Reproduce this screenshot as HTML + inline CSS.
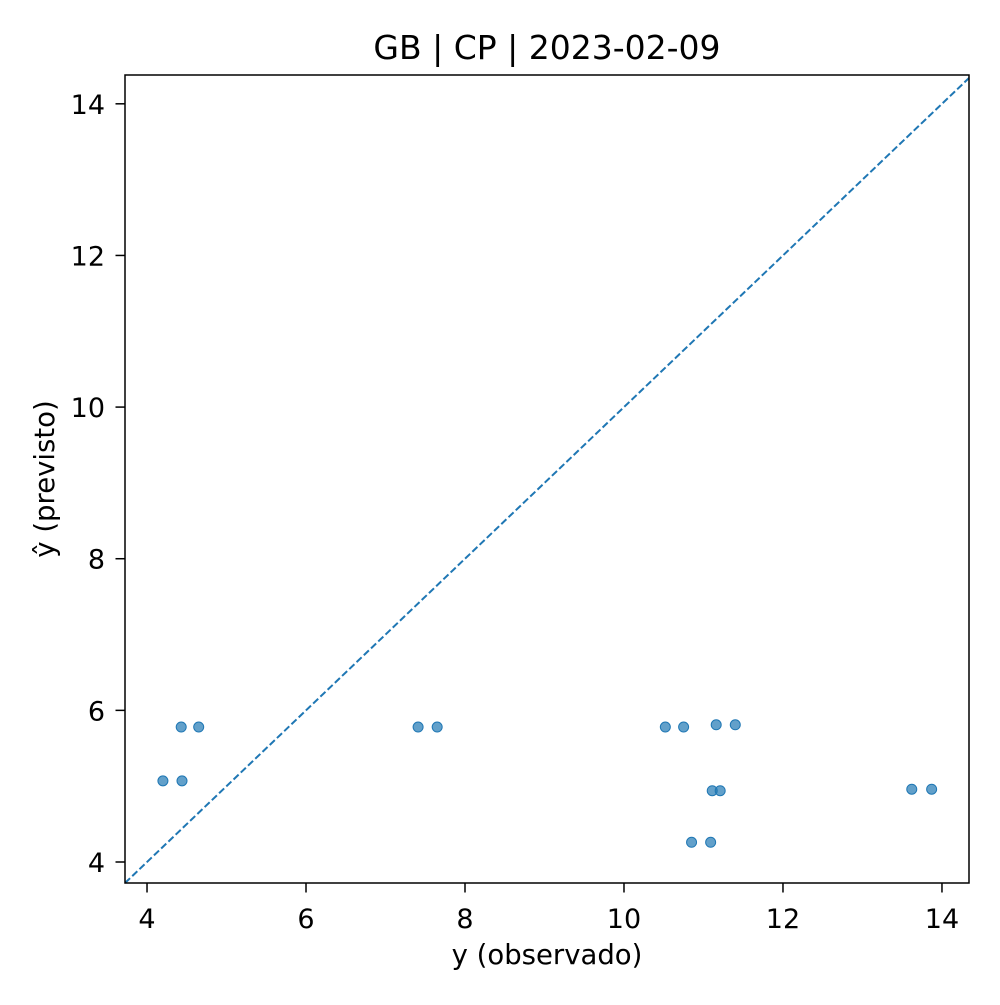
<!DOCTYPE html>
<html><head><meta charset="utf-8"><style>
html,body{margin:0;padding:0;background:#fff;}
svg text{font-family:"DejaVu Sans","Liberation Sans",sans-serif;fill:#000;}
</style></head><body>
<svg id="chart" width="1000" height="1000" xmlns="http://www.w3.org/2000/svg">
<rect width="1000" height="1000" fill="#fff"/>
<text x="547" y="59" font-size="33" text-anchor="middle">GB | CP | 2023-02-09</text>
<g id="marks"></g>
<rect x="125" y="75" width="844" height="808" fill="none" stroke="#000" stroke-width="1.5"/>
<g id="axes"></g>
<text x="547" y="964" font-size="27.5" text-anchor="middle">y (observado)</text>
<text transform="translate(54,479) rotate(-90)" font-size="27.5" text-anchor="middle">ŷ (previsto)</text>
</svg>
<script>
const xObs = [4.20,4.44,4.43,4.65,7.41,7.65,10.52,10.75,11.16,11.40,11.11,11.21,10.85,11.09,13.62,13.87];
const yPred = [5.07,5.07,5.78,5.78,5.78,5.78,5.78,5.78,5.81,5.81,4.94,4.94,4.26,4.26,4.96,4.96];
const xTicks = [4,6,8,10,12,14];
const yTicks = [4,6,8,10,12,14];
const xDomain = [3.723,14.34];
const yDomain = [3.723,14.38];
const L=125,R=969,T=75,B=883;
const sx=v=>L+(v-xDomain[0])/(xDomain[1]-xDomain[0])*(R-L);
const sy=v=>B-(v-yDomain[0])/(yDomain[1]-yDomain[0])*(B-T);
const NS='http://www.w3.org/2000/svg';
const marks=document.getElementById('marks');
const axes=document.getElementById('axes');
const hi=Math.min(xDomain[1],yDomain[1]);
const line=document.createElementNS(NS,'line');


line.setAttribute('x1',sx(xDomain[0]));line.setAttribute('y1',sy(xDomain[0]));
line.setAttribute('x2',sx(hi));line.setAttribute('y2',sy(hi));
line.setAttribute('stroke','#1f77b4');line.setAttribute('stroke-width','2');line.setAttribute('stroke-dasharray','7,3');
marks.appendChild(line);
xObs.forEach((x,i)=>{
  const c=document.createElementNS(NS,'circle');
  
  
  c.setAttribute('cx',sx(x));c.setAttribute('cy',sy(yPred[i]));c.setAttribute('r','5');
  c.setAttribute('fill','#1f77b4');c.setAttribute('fill-opacity','0.7');
  c.setAttribute('stroke','#1f77b4');c.setAttribute('stroke-width','1');
  marks.appendChild(c);
});
xTicks.forEach(t=>{
  const x=sx(t);
  const l=document.createElementNS(NS,'line');
  
  
  l.setAttribute('x1',x);l.setAttribute('x2',x);l.setAttribute('y1',B);l.setAttribute('y2',B+9.5);l.setAttribute('stroke','#000');l.setAttribute('stroke-width','1.5');
  axes.appendChild(l);
  const tx=document.createElementNS(NS,'text');
  
  
  tx.setAttribute('x',x);tx.setAttribute('y',B+45);tx.setAttribute('font-size','27');tx.setAttribute('text-anchor','middle');
  tx.textContent=t;axes.appendChild(tx);
});
yTicks.forEach(t=>{
  const y=sy(t);
  const l=document.createElementNS(NS,'line');
  
  
  l.setAttribute('x1',L-9.5);l.setAttribute('x2',L);l.setAttribute('y1',y);l.setAttribute('y2',y);l.setAttribute('stroke','#000');l.setAttribute('stroke-width','1.5');
  axes.appendChild(l);
  const tx=document.createElementNS(NS,'text');
  
  
  tx.setAttribute('x',L-20);tx.setAttribute('y',y+10);tx.setAttribute('font-size','27');tx.setAttribute('text-anchor','end');
  tx.textContent=t;axes.appendChild(tx);
});
</script>
</body></html>
